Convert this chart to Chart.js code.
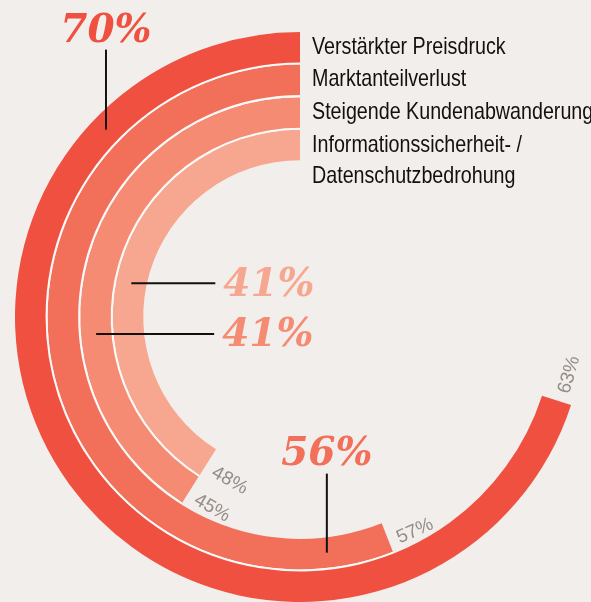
<!DOCTYPE html>
<html>
<head>
<meta charset="utf-8">
<script src="https://cdn.jsdelivr.net/npm/chart.js@4.4.0/dist/chart.umd.min.js"></script>
<style>
  html, body { margin: 0; padding: 0; background: #f2eeeb; overflow: hidden; }
  #wrap { position: relative; width: 591px; height: 602px; }
</style>
</head>
<body>
<div id="wrap"><canvas id="myChart"></canvas></div>
<script>
// Data
const categories = [
  ["Verstärkter Preisdruck"],
  ["Marktanteilverlust"],
  ["Steigende Kundenabwanderung"],
  ["Informationssicherheit- /", "Datenschutzbedrohung"]
];
const values = [70, 56, 41, 41];
const previousValues = [63, 57, 45, 48];
const colors = ['#ef5040', '#f26f5a', '#f58b73', '#f7a68f'];

// Callout styling for the big percentage labels (angle in degrees, line offset, text placement)
const callouts = [
  { angle: -136, lx: 0, ly: -80, tx: 0, ty: -8, align: 'center' },
  { angle: 83.5, lx: 0, ly: -79, tx: 0, ty: -9, align: 'center' },
  { angle: 175.2, lx: 118, ly: 0, tx: 8, ty: 12, align: 'left' },
  { angle: -168.7, lx: 84, ly: 0, tx: 8, ty: 13, align: 'left' }
];

const ctx = document.getElementById('myChart');

// Build rings, with a thin white separator ring between neighbours
const datasets = [];
values.forEach((v, i) => {
  datasets.push({
    ring: i,
    data: [100 - v, v],
    backgroundColor: ['rgba(0,0,0,0)', colors[i]],
    borderWidth: 0,
    weight: 30
  });
  if (i < values.length - 1) {
    const next = Math.min(v, values[i + 1]);
    datasets.push({
      data: [100 - next, next],
      backgroundColor: ['rgba(0,0,0,0)', '#fbf9f8'],
      borderWidth: 0,
      weight: 2
    });
  }
});

// Draws legend text, big value labels and the small previous-value labels
const ringLabels = {
  id: 'ringLabels',
  afterDraw(chart) {
    const c = chart.ctx;
    chart.data.datasets.forEach((ds, di) => {
      if (ds.ring === undefined) return;
      const i = ds.ring;
      const arc = chart.getDatasetMeta(di).data[1];
      const p = arc.getProps(['x', 'y', 'startAngle', 'innerRadius', 'outerRadius'], true);
      const mid = (p.innerRadius + p.outerRadius) / 2;

      // previous value at end of arc
      const a = p.startAngle - 9 / mid;
      c.save();
      c.translate(p.x + mid * Math.cos(a), p.y + mid * Math.sin(a));
      c.rotate(a - Math.PI / 2);
      c.font = '19px "Liberation Sans", Arial, sans-serif';
      c.fillStyle = '#958d87';
      c.textAlign = 'left';
      c.textBaseline = 'middle';
      c.fillText(previousValues[i] + '%', 0, 5);
      c.restore();

      // legend text next to the start of each ring (condensed look)
      c.save();
      c.font = '24px "Liberation Sans", Arial, sans-serif';
      c.fillStyle = '#111';
      c.textAlign = 'left';
      c.textBaseline = 'middle';
      c.translate(p.x + 12, 0);
      c.scale(0.82, 1);
      categories[i].forEach((line, k) => {
        c.fillText(line, 0, p.y - mid + k * 31);
      });
      c.restore();

      // big value with pointer line
      const co = callouts[i];
      const rad = co.angle * Math.PI / 180;
      const ax = p.x + mid * Math.cos(rad);
      const ay = p.y + mid * Math.sin(rad);
      const ex = ax + co.lx;
      const ey = ay + co.ly;
      c.save();
      c.strokeStyle = '#111';
      c.lineWidth = 2;
      c.beginPath();
      c.moveTo(ax, ay);
      c.lineTo(ex, ey);
      c.stroke();
      c.font = 'italic bold 39px "DejaVu Serif", serif';
      c.fillStyle = colors[i];
      c.textAlign = co.align;
      c.textBaseline = 'alphabetic';
      c.fillText(values[i] + '%', ex + co.tx, ey + co.ty);
      c.restore();
    });
  }
};

const myChart = new Chart(ctx, {
  type: 'doughnut',
  data: {
    labels: ['rest', 'value'],
    datasets: datasets
  },
  options: {
    responsive: true,
    maintainAspectRatio: false,
    animation: false,
    events: [],
    cutout: '55%',
    layout: { padding: { left: 15, top: 32, right: 6, bottom: 0 } },
    plugins: {
      legend: { display: false },
      tooltip: { enabled: false }
    }
  },
  plugins: [ringLabels]
});
</script>
</body>
</html>
